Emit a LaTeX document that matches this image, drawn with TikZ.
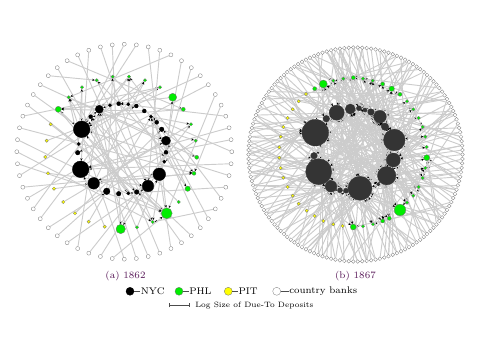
\documentclass[tikz,border=0pt]{standalone}
\usepackage{tikz}
\usetikzlibrary{arrows.meta}
\usetikzlibrary{backgrounds}

\definecolor{phlgreen}{RGB}{0,238,0}
\definecolor{pityellow}{RGB}{255,255,0}
\definecolor{nycgray}{RGB}{52,52,52}
\definecolor{linkgray}{RGB}{204,204,204}
\definecolor{caplabel}{RGB}{85,20,85}

% weighted target lists (bigger banks drawn more often)
\newcommand\nycA{3,6,3,6,3,6,13,12,7,13,12,7,16,1,8,16,1,2,4,5,9,10,11,14,15,17,18,19,20,21,22,23,24}
\newcommand\phlA{17,20,9,1,15,17,20,9,1,2,3,4,5,6,7,8,10,11,12,13,14,16,18,19}
\newcommand\nycB{18,16,12,8,10,18,16,12,8,10,1,9,6,15,2,1,9,6,15,2,3,4,5,7,11,13,14,17,19}
\newcommand\phlB{23,23,23,1,1,17,28,9,2,3,4,5,6,7,8,10,11,12,13,14,15,16,18,19,20,21,22,24,25,26,27}

\tikzset{
  bank/.style={circle, inner sep=0pt, line width=0.25pt, minimum size=#1*1.5pt},
  nyc/.style={bank=#1, fill=black, draw=black},
  nycb/.style={bank=#1, fill=nycgray, draw=nycgray},
  phl/.style={bank=#1, fill=phlgreen, draw=black!55},
  pit/.style={bank=#1, fill=pityellow, draw=black!55},
  country/.style={bank=#1, fill=white, draw=black!50},
  link/.style={draw=linkgray, line width=0.7pt, -{Stealth[color=black, length=2pt, width=1.7pt]}},
  keytext/.style={anchor=west, inner sep=0pt, font=\fontsize{7.2}{9}\selectfont},
}

\begin{document}
\begin{tikzpicture}[x=0.75pt,y=-0.75pt]
  \useasboundingbox (0,0) rectangle (480,360);

  % (a) 1862
  \foreach \x/\y/\r [count=\i] in {99.3/109.3/4, 90.7/116.7/2, 81.7/129.3/8.3, 78.7/144/1.7,
      77.7/152.7/2.3, 80.7/169.3/8.3, 93.7/183.3/5.8, 106.7/191.3/3.3, 118.7/193.7/2.3,
      128.3/193.3/1.7, 136.7/192/2.3, 148/186/5.8, 159.3/174.3/6.3, 164.3/161.7/1.7,
      166/152.3/2, 166/140.7/4.5, 161.7/129.3/2.3, 156.7/122.3/2, 151/116.7/1.7,
      144.3/111/2, 136.3/106/2, 128.3/104.3/1.7, 118.7/103.7/2, 110/105.3/1.7}
    \node[nyc=\r] (a-n\i) at (\x,\y) {};
  \foreach \x/\y/\r [count=\i] in {58.3/109.3/3, 68.7/97.3/1.7, 82/87.3/1.7, 96.7/80.3/1.7,
      112.7/76.7/1.7, 129/76.7/1.7, 145/80.3/1.7, 160/87.3/1.7, 172.7/97.3/4,
      183.3/109.3/2, 191/124.3/1.7, 195.7/140.7/1.7, 196.7/157.3/2, 194/173.3/2,
      187.7/188.7/2.7, 178.7/202/1.7, 166.7/213.3/5.5, 152.7/222/1.7, 137/227.3/1.7,
      120.7/229/4.7}
    \node[phl=\r] (a-g\i) at (\x,\y) {};
  \foreach \x/\y [count=\i] in {50.7/124.3, 46.7/140.7, 45.3/157, 48/173.3, 54/188.7,
      63.3/202, 75/213.3, 88.7/221.7, 104.7/226.7}
    \node[pit=1.7] (a-y\i) at (\x,\y) {};
  \foreach \i in {1,...,56}
    \node[country=2] (a-c\i) at ({124.3+107.5*cos(360/56*\i)},{151.7+107.5*sin(360/56*\i)}) {};

  % (b) 1867
  \foreach \x/\y/\r [count=\i] in {336.7/112.7/7.5, 350.3/109/5, 359/108.3/2.5, 365/110/2,
      371/112/3.3, 380/116.7/6.3, 385/126.7/3.7, 394.3/140/10.8, 393.3/160/7,
      386.7/175.7/9.2, 378.3/184.3/1.7, 360/188.3/12, 346/190.7/2.5, 340/190.3/2.5,
      331/186.3/5.8, 318.7/171.7/13, 314/155.7/3.3, 315.3/132.7/13.3, 326.3/118.7/3.3}
    \node[nycb=\r] (b-n\i) at (\x,\y) {};
  \foreach \x/\y/\r [count=\i] in {323.3/84/4, 314.7/88.7/2, 333.3/80.7/1.7, 343.3/78.7/1.7,
      353.3/77.7/2, 363/78.7/1.7, 372.7/80.7/1.7, 382.7/84/2, 391.7/88.7/2.7, 400/94.3/2,
      407/101.3/1.7, 413.3/109.3/1.7, 418.7/118/1.7, 422.7/127/1.7, 425.3/136.7/1.7,
      426.7/147/1.7, 426.7/157.7/3, 425.3/168/1.7, 422.7/178/1.7, 418.7/187/1.7,
      413.3/195.7/1.7, 407/202.7/1.7, 400/210/5.8, 389.3/218.3/2, 382.7/221/2,
      373/224.3/1.7, 363/226.3/1.7, 353.3/227/3}
    \node[phl=\r] (b-g\i) at (\x,\y) {};
  \foreach \x/\y [count=\i] in {306/94, 298.7/101.3, 292.7/109.3, 287.7/118, 283.3/127,
      280.7/136.7, 279.3/147.3, 279.3/157.7, 280.7/168, 283.3/177.7, 287.7/187,
      292.7/195.7, 298.7/203.7, 306.7/210.7, 314.7/216, 323.3/221, 333.3/224.3, 342.7/226}
    \node[pit=1.7] (b-y\i) at (\x,\y) {};
  \foreach \i in {1,...,150}
    \node[country=1.9] (b-c\i) at ({355.5+107*cos(360/150*\i)},{154.5+107*sin(360/150*\i)}) {};

  % interbank links
  \pgfmathsetseed{1862}
  \begin{pgfonlayer}{background}
    \foreach \i in {1,...,56} {
      \pgfmathrandominteger{\k}{1}{5}
      \ifnum\k<4
        \pgfmathrandominteger{\t}{0}{32}
        \pgfmathtruncatemacro\tn{{\nycA}[\t]}
        \draw[link] (a-c\i) -- (a-n\tn);
      \else
        \pgfmathrandominteger{\t}{0}{23}
        \pgfmathtruncatemacro\tn{{\phlA}[\t]}
        \draw[link] (a-c\i) -- (a-g\tn);
      \fi
    }
    \foreach \i in {1,...,9} {
      \pgfmathrandominteger{\t}{0}{32}
      \pgfmathtruncatemacro\tn{{\nycA}[\t]}
      \draw[link] (a-y\i) -- (a-n\tn);
    }
    \foreach \i in {1,...,20} {
      \pgfmathrandominteger{\t}{0}{32}
      \pgfmathtruncatemacro\tn{{\nycA}[\t]}
      \draw[link] (a-g\i) -- (a-n\tn);
    }
    \foreach \i in {1,...,18} {
      \pgfmathrandominteger{\s}{1}{24}
      \pgfmathrandominteger{\t}{0}{23}
      \pgfmathtruncatemacro\tn{{\phlA}[\t]}
      \draw[link] (a-n\s) -- (a-g\tn);
    }

    \pgfmathsetseed{1867}
    \foreach \i in {1,...,150} {
      \pgfmathrandominteger{\k}{1}{10}
      \ifnum\k<8
        \pgfmathrandominteger{\t}{0}{28}
        \pgfmathtruncatemacro\tn{{\nycB}[\t]}
        \draw[link] (b-c\i) -- (b-n\tn);
      \else
        \pgfmathrandominteger{\t}{0}{30}
        \pgfmathtruncatemacro\tn{{\phlB}[\t]}
        \draw[link] (b-c\i) -- (b-g\tn);
      \fi
    }
    \foreach \i in {1,...,110} {
      \pgfmathrandominteger{\s}{1}{150}
      \pgfmathrandominteger{\t}{0}{28}
      \pgfmathtruncatemacro\tn{{\nycB}[\t]}
      \draw[link] (b-c\s) -- (b-n\tn);
    }
    \foreach \i in {1,...,18} {
      \pgfmathrandominteger{\t}{0}{28}
      \pgfmathtruncatemacro\tn{{\nycB}[\t]}
      \draw[link] (b-y\i) -- (b-n\tn);
    }
    \foreach \i in {1,...,28} {
      \pgfmathrandominteger{\t}{0}{28}
      \pgfmathtruncatemacro\tn{{\nycB}[\t]}
      \draw[link] (b-g\i) -- (b-n\tn);
    }
    \foreach \i in {1,...,30} {
      \pgfmathrandominteger{\s}{1}{19}
      \pgfmathrandominteger{\t}{0}{30}
      \pgfmathtruncatemacro\tn{{\phlB}[\t]}
      \draw[link] (b-n\s) -- (b-g\tn);
    }
  \end{pgfonlayer}

  % captions and key
  \node[text=caplabel, font=\fontsize{7.3}{9}\selectfont] (cap-a) at (125.5,276) {(a) 1862};
  \node[text=caplabel, font=\fontsize{7.3}{9}\selectfont] (cap-b) at (355.5,276) {(b) 1867};

  \node[nyc=4] (k-nyc) at (130,291.3) {};
  \node[keytext] (t-nyc) at (140.5,291.3) {NYC};
  \node[phl=4] (k-phl) at (179,291.3) {};
  \node[keytext] (t-phl) at (189,291.3) {PHL};
  \node[pit=4] (k-pit) at (228.3,291.3) {};
  \node[keytext] (t-pit) at (238.3,291.3) {PIT};
  \node[country=4] (k-cty) at (276.7,291.3) {};
  \node[keytext] (t-cty) at (289,291.3) {country banks};
  \foreach \k in {nyc, phl, pit, cty}
    \draw[line width=0.4pt, black!70] (k-\k) -- (t-\k.west);

  \coordinate (s-l) at (169,305.3);
  \coordinate (s-r) at (190,305.3);
  \draw[line width=0.4pt, black!70, {Bar[width=3pt]}-{Bar[width=3pt]}] (s-l) -- (s-r);
  \node[keytext, font=\fontsize{5.8}{7}\selectfont] (t-log) at (195,305.3) {Log Size of Due-To Deposits};
\end{tikzpicture}
\end{document}
